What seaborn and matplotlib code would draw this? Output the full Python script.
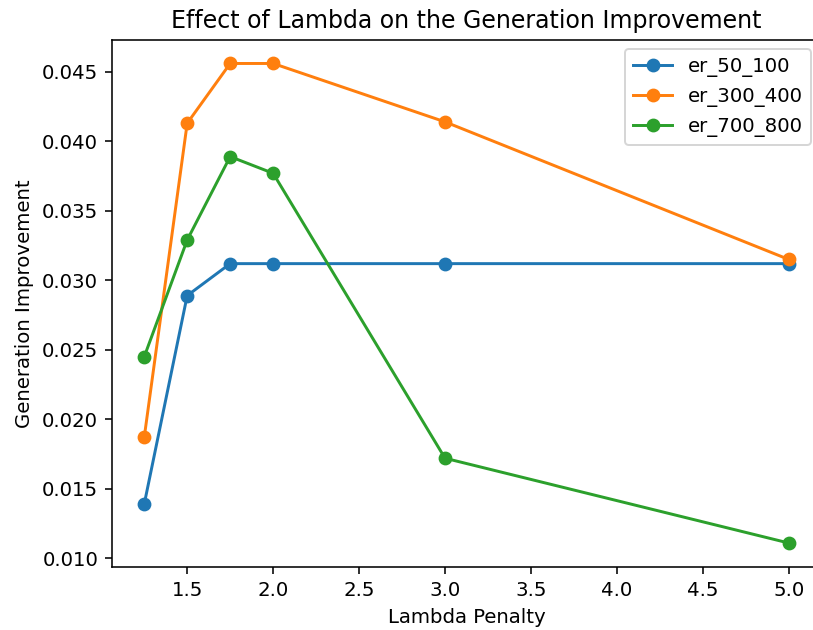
import matplotlib
matplotlib.use("Agg")
import matplotlib.pyplot as plt
import seaborn as sns
import pandas as pd

lambdas = [1.25, 1.5, 1.75, 2.0, 3.0, 5.0]
er_50_100 = [0.0139, 0.0289, 0.0312, 0.0312, 0.0312, 0.0312]
er_300_400 = [0.0187, 0.0413, 0.0456, 0.0456, 0.0414, 0.0315]
er_700_800 = [0.0245, 0.0329, 0.0389, 0.0377, 0.0172, 0.0111]
series_names = ["er_50_100", "er_300_400", "er_700_800"]
colors = ["#1f77b4", "#ff7f0e", "#2ca02c"]

df = pd.DataFrame({
    "Lambda Penalty": lambdas * 3,
    "Generation Improvement": er_50_100 + er_300_400 + er_700_800,
    "Dataset": sum([[n] * len(lambdas) for n in series_names], []),
})

DPI = 142
fig = plt.figure(figsize=(813 / DPI, 630 / DPI), dpi=DPI)
ax = fig.add_axes([112 / 813, 63 / 630, 709 / 813, 527.5 / 630])

for name, c in zip(series_names, colors):
    sub = df[df["Dataset"] == name]
    sns.lineplot(data=sub, x="Lambda Penalty", y="Generation Improvement",
                 color=c, marker="o", markersize=6, markeredgecolor=c,
                 markeredgewidth=1.0, linewidth=1.5, label=name, ax=ax)

ax.set_title("Effect of Lambda on the Generation Improvement", fontsize=12)
ax.set_xlabel("Lambda Penalty")
ax.set_ylabel("Generation Improvement")
ax.set_xticks([1.5, 2.0, 2.5, 3.0, 3.5, 4.0, 4.5, 5.0])
ax.legend(loc="upper right")

fig.savefig("out.png", dpi=DPI)
